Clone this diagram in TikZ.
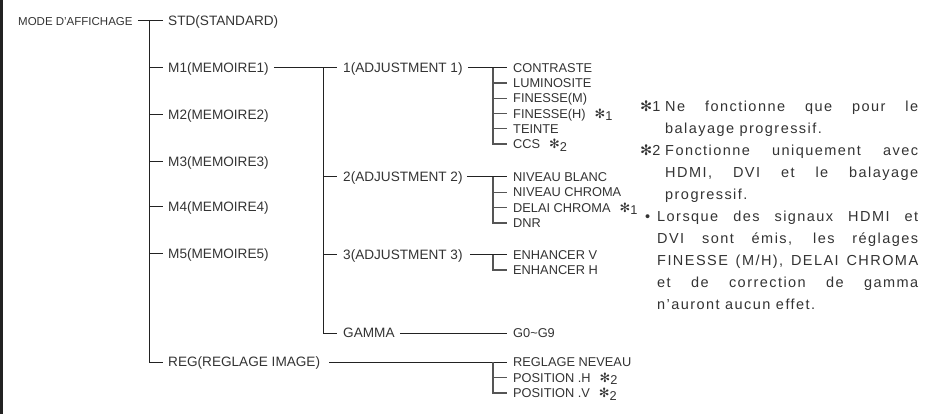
\documentclass[tikz,border=0pt]{standalone}
\usepackage{fontspec}
\setmainfont{Liberation Sans}
\newfontfamily\starfont{DejaVu Sans}
\newfontfamily\notefont[LetterSpace=10]{Liberation Sans}
\definecolor{ink}{HTML}{333333}
\definecolor{lineink}{HTML}{222222}
\definecolor{brack}{HTML}{555555}
\newcommand{\leafstar}[1]{\hspace{0.7em}{\starfont\char"273B}\raisebox{-2.5pt}{#1}}
\newcommand{\notestar}[1]{{\starfont\char"273B}#1}
\tikzset{
 rootbox/.style={anchor=west, inner sep=0pt, font=\fontsize{11.5}{13}\selectfont, text=ink, text height=8.2pt, text depth=0pt},
 lvlbox/.style={anchor=west, inner sep=0pt, font=\fontsize{13.6}{15}\selectfont, text=ink, text height=9.7pt, text depth=0pt},
 leafbox/.style={anchor=west, inner sep=0pt, font=\fontsize{12.8}{14}\selectfont, text=ink, text height=9.2pt, text depth=0pt},
 notebox/.style={anchor=west, inner sep=0pt, font=\notefont\fontsize{14.5}{17}\selectfont, text=ink, text height=10.4pt, text depth=0pt},
 wire/.style={draw=lineink, line width=1pt},
 brk/.style={draw=brack, line width=1.4pt},
}
\begin{document}
\begin{tikzpicture}[x=1pt,y=-1pt]
\useasboundingbox (0,0) rectangle (927,414);
\draw[draw=lineink, line width=3pt] (1.5,0) -- (1.5,414);

% level 0/1
\node[rootbox] (root) at (18,21) {MODE D’AFFICHAGE};
\node[lvlbox] (std) at (168,21) {STD(STANDARD)};
\node[lvlbox] (m1) at (168,68) {M1(MEMOIRE1)};
\node[lvlbox] (m2) at (168,115) {M2(MEMOIRE2)};
\node[lvlbox] (m3) at (168,162) {M3(MEMOIRE3)};
\node[lvlbox] (m4) at (168,207) {M4(MEMOIRE4)};
\node[lvlbox] (m5) at (168,254) {M5(MEMOIRE5)};
\node[lvlbox] (reg) at (168,362) {REG(REGLAGE IMAGE)};
\coordinate (j0) at (149,21);
\draw[wire] ([xshift=5pt]root.east) -- ([xshift=-5pt]std.west);
\draw[wire] (j0) -- (j0 |- reg.west) -- ([xshift=-5pt]reg.west);
\foreach \n in {m1,m2,m3,m4,m5}{\draw[wire] (j0 |- \n.west) -- ([xshift=-5pt]\n.west);}

% level 2
\node[lvlbox] (adj1) at (343,68) {1(ADJUSTMENT 1)};
\node[lvlbox] (adj2) at (343,177) {2(ADJUSTMENT 2)};
\node[lvlbox] (adj3) at (343,255) {3(ADJUSTMENT 3)};
\node[lvlbox] (gam) at (343,333) {GAMMA};
\coordinate (j1) at (323,68);
\draw[wire] ([xshift=5pt]m1.east) -- ([xshift=-6pt]adj1.west);
\draw[wire] (j1) -- (j1 |- gam.west) -- ([xshift=-6pt]gam.west);
\foreach \n in {adj2,adj3}{\draw[wire] (j1 |- \n.west) -- ([xshift=-6pt]\n.west);}

% leaves group 1
\node[leafbox] (c1) at (513,68) {CONTRASTE};
\node[leafbox] (c2) at (513,83.2) {LUMINOSITE};
\node[leafbox] (c3) at (513,98.4) {FINESSE(M)};
\node[leafbox] (c4) at (513,113.6) {FINESSE(H)\leafstar{1}};
\node[leafbox] (c5) at (513,128.8) {TEINTE};
\node[leafbox] (c6) at (513,144) {CCS\leafstar{2}};
\coordinate (j2) at (493,68);
\draw[wire] ([xshift=5pt]adj1.east) -- ([xshift=-6pt]c1.west);
\draw[brk] (j2) -- (j2 |- c6.west) -- ([xshift=-6pt]c6.west);
\foreach \n in {c2,c3,c4,c5}{\draw[brk] (j2 |- \n.west) -- ([xshift=-6pt]\n.west);}

% leaves group 2
\node[leafbox] (d1) at (513,177) {NIVEAU BLANC};
\node[leafbox] (d2) at (513,192.3) {NIVEAU CHROMA};
\node[leafbox] (d3) at (513,207.6) {DELAI CHROMA\leafstar{1}};
\node[leafbox] (d4) at (513,223) {DNR};
\coordinate (j3) at (493,177);
\draw[wire] ([xshift=4pt]adj2.east) -- ([xshift=-6pt]d1.west);
\draw[brk] (j3) -- (j3 |- d4.west) -- ([xshift=-6pt]d4.west);
\foreach \n in {d2,d3}{\draw[brk] (j3 |- \n.west) -- ([xshift=-6pt]\n.west);}

% leaves group 3
\node[leafbox] (e1) at (513,255) {ENHANCER V};
\node[leafbox] (e2) at (513,270) {ENHANCER H};
\coordinate (j4) at (493,255);
\draw[wire] ([xshift=7pt]adj3.east) -- ([xshift=-6pt]e1.west);
\draw[brk] (j4) -- (j4 |- e2.west) -- ([xshift=-6pt]e2.west);

% gamma
\node[leafbox] (g) at (513,333) {G0\textasciitilde G9};
\draw[wire] ([xshift=5pt]gam.east) -- ([xshift=-6pt]g.west);

% reg leaves
\node[leafbox] (r1) at (513,362) {REGLAGE NEVEAU};
\node[leafbox] (r2) at (513,377.5) {POSITION .H\leafstar{2}};
\node[leafbox] (r3) at (513,393) {POSITION .V\leafstar{2}};
\coordinate (j5) at (493,362);
\draw[wire] ([xshift=9pt]reg.east) -- ([xshift=-6pt]r1.west);
\draw[brk] (j5) -- (j5 |- r3.west) -- ([xshift=-6pt]r3.west);
\draw[brk] (j5 |- r2.west) -- ([xshift=-6pt]r2.west);

% notes
\node[notebox] (s1) at (640,106) {\notestar{1}};
\node[notebox] (n1) at (665,106) {\makebox[253pt][s]{Ne fonctionne que pour le}};
\node[notebox] (n2) at (665,128) {balayage progressif.};
\node[notebox] (s2) at (640,150) {\notestar{2}};
\node[notebox] (n3) at (665,150) {\makebox[253pt][s]{Fonctionne uniquement avec}};
\node[notebox] (n4) at (665,172) {\makebox[253pt][s]{HDMI, DVI et le balayage}};
\node[notebox] (n5) at (665,194) {progressif.};
\node[notebox] (b1) at (645,216) {\textbullet};
\node[notebox] (n6) at (657,216) {\makebox[261pt][s]{Lorsque des signaux HDMI et}};
\node[notebox] (n7) at (657,238) {\makebox[261pt][s]{DVI sont émis, les réglages}};
\node[notebox] (n8) at (657,260) {\makebox[261pt][s]{FINESSE (M/H), DELAI CHROMA}};
\node[notebox] (n9) at (657,282) {\makebox[261pt][s]{et de correction de gamma}};
\node[notebox] (n10) at (657,304) {n’auront aucun effet.};
\end{tikzpicture}
\end{document}
